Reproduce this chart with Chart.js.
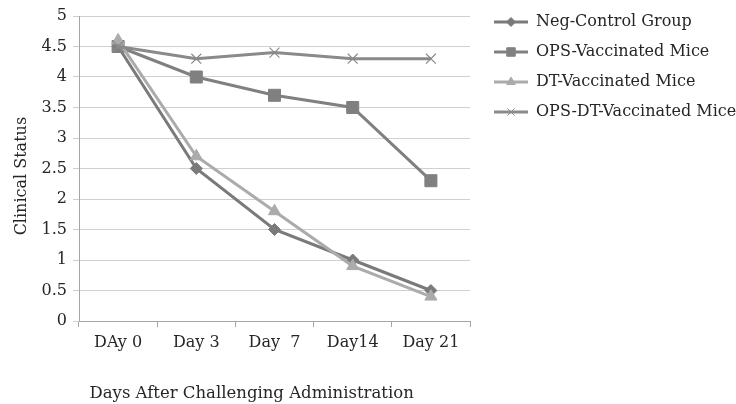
<!DOCTYPE html>
<html>
<head>
<meta charset="utf-8">
<script src="https://cdn.jsdelivr.net/npm/chart.js@4/dist/chart.umd.min.js"></script>
<style>
  html, body { margin: 0; padding: 0; background: #fff; }
  #wrap { width: 736px; height: 404px; position: relative; }
</style>
</head>
<body>
<div id="wrap"><canvas id="chart"></canvas></div>
<script>
// --- datos ---
const days = ['DAy 0', 'Day 3', 'Day  7', 'Day14', 'Day 21'];
const negControl = [4.5, 2.5, 1.5, 1.0, 0.5];
const opsVacc = [4.5, 4.0, 3.7, 3.5, 2.3];
const dtVacc = [4.6, 2.7, 1.8, 0.9, 0.4];
const opsDtVacc = [4.5, 4.3, 4.4, 4.3, 4.3];

const FONT = 'DejaVu Serif';
const TEXT = '#262626';

const series = [
    { label: 'Neg-Control Group', data: negControl, color: '#7a7a7a', style: 'rectRot', r: 6 },
    { label: 'OPS-Vaccinated Mice', data: opsVacc, color: '#808080', style: 'rect', r: 8.5 },
    { label: 'DT-Vaccinated Mice', data: dtVacc, color: '#ababab', style: 'triangle', r: 7 },
    { label: 'OPS-DT-Vaccinated Mice', data: opsDtVacc, color: '#8a8a8a', style: 'crossRot', r: 7 }
];

// iconos de la leyenda (linea + marcador), con margen transparente a la izquierda
const ICON_W = 44;
const icons = series.map(s => {
    const c = document.createElement('canvas');
    c.width = ICON_W; c.height = 16;
    const g = c.getContext('2d');
    g.strokeStyle = s.color;
    g.fillStyle = s.color;
    g.lineWidth = 3;
    g.beginPath(); g.moveTo(10, 8); g.lineTo(ICON_W, 8); g.stroke();
    g.lineWidth = 1;
    const rr = s.style === 'rect' ? 6 : (s.style === 'rectRot' ? 4.5 : 5);
    Chart.helpers.drawPoint(g, { pointStyle: s.style, radius: rr, borderWidth: 1, rotation: 0 }, 27, 8);
    return c;
});

const ctx = document.getElementById('chart').getContext('2d');

new Chart(ctx, {
    type: 'line',
    data: {
        labels: days,
        datasets: series.map((s, i) => ({
            label: s.label,
            data: s.data,
            borderColor: s.color,
            backgroundColor: s.color,
            borderWidth: 3,
            pointStyle: s.style,
            pointRadius: s.r,
            pointBorderWidth: s.style === 'crossRot' ? 1.2 : 1,
            pointBorderColor: s.color,
            pointBackgroundColor: s.color,
            tension: 0,
            order: 4 - i
        }))
    },
    options: {
        responsive: true,
        maintainAspectRatio: false,
        animation: false,
        layout: { padding: { top: 0, right: 0, bottom: 0, left: 0 } },
        plugins: {
            tooltip: { enabled: false },
            legend: {
                position: 'right',
                align: 'start',
                maxWidth: 266,
                labels: {
                    usePointStyle: true,
                    pointStyleWidth: ICON_W,
                    padding: 14,
                    color: TEXT,
                    font: { family: FONT, size: 16 },
                    generateLabels: () => series.map((s, i) => ({
                        text: s.label,
                        pointStyle: icons[i],
                        fillStyle: s.color,
                        strokeStyle: s.color,
                        lineWidth: 0,
                        hidden: false,
                        datasetIndex: i,
                        fontColor: TEXT
                    }))
                }
            }
        },
        scales: {
            x: {
                offset: true,
                grid: { drawOnChartArea: false, drawTicks: true, tickLength: 6, color: '#a6a6a6', offset: true },
                border: { color: '#a6a6a6', width: 1 },
                ticks: { color: TEXT, padding: 6, maxRotation: 0, font: { family: FONT, size: 16 } },
                title: {
                    display: true,
                    align: 'start',
                    text: '  Days After Challenging Administration',
                    color: TEXT,
                    font: { family: FONT, size: 16.5 },
                    padding: { top: 0, bottom: 0 }
                },
                afterFit: (s) => { s.height = 83; }
            },
            y: {
                min: 0,
                max: 5,
                grid: { color: '#d0d0d0', tickLength: 6, drawTicks: true },
                border: { color: '#a6a6a6', width: 1 },
                ticks: {
                    stepSize: 0.5,
                    padding: 6,
                    color: TEXT,
                    font: { family: FONT, size: 16 },
                    callback: (v) => String(v)
                },
                title: {
                    display: true,
                    text: 'Clinical Status   ',
                    color: TEXT,
                    font: { family: FONT, size: 16 },
                    padding: { top: 12, bottom: 0 }
                },
                afterFit: (s) => { s.width = 79; s.paddingTop = 16; }
            }
        }
    }
});
</script>
</body>
</html>
